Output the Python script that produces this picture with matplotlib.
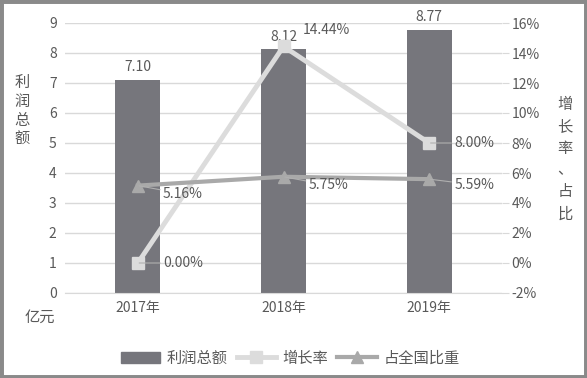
import matplotlib
matplotlib.use("Agg")
import matplotlib.pyplot as plt
from matplotlib.lines import Line2D
from matplotlib.patches import Patch, Rectangle
import numpy as np

plt.rcParams['font.family'] = ['Noto Sans CJK SC', 'DejaVu Sans']

categories = ['2017年', '2018年', '2019年']
profit = [7.10, 8.12, 8.77]
growth = [0.00, 14.44, 8.00]
share = [5.16, 5.75, 5.59]
left_ticks = [0, 1, 2, 3, 4, 5, 6, 7, 8, 9]
right_ticks = [-2, 0, 2, 4, 6, 8, 10, 12, 14, 16]

TXT = '#595959'
BAR = '#76767c'
GROW = '#dcdcdc'
SHARE = '#a9a9a9'
GRID = '#d9d9d9'

fig = plt.figure(figsize=(5.87, 3.78), dpi=100)
ax = fig.add_axes([65/587, 1-293/378, (502-65)/587, 270/378])
x = np.arange(len(categories))
ax.bar(x, profit, width=0.31, color=BAR, zorder=2)
ax.set_xlim(-0.5, 2.5)
ax.set_ylim(0, 9)
ax.set_yticks(left_ticks)
ax.set_xticks(x)
ax.set_xticklabels(categories)
ax.yaxis.grid(True, color=GRID, lw=1, zorder=0)
for s in ax.spines.values():
    s.set_visible(False)
ax.spines['bottom'].set_visible(True)
ax.spines['bottom'].set_color(GRID)
ax.tick_params(axis='both', length=0, colors=TXT, labelsize=10, pad=6)
for i, v in enumerate(profit):
    ax.annotate(f'{v:.2f}', (x[i], v), xytext=(0, 4), textcoords='offset points',
                ha='center', va='bottom', fontsize=10, color=TXT, zorder=5)

ax2 = ax.twinx()
ax2.set_ylim(-2, 16)
ax2.set_yticks(right_ticks)
ax2.set_yticklabels([f'{t}%' for t in right_ticks])
for s in ax2.spines.values():
    s.set_visible(False)
ax2.tick_params(axis='y', length=5, color=GRID, colors=TXT, labelsize=10, pad=2)
ax2.plot(x, growth, color=GROW, lw=3.5, marker='s', ms=8, zorder=3)
ax2.plot(x, share, color=SHARE, lw=3, marker='^', ms=8, zorder=4)

def lab(i, v, dx, dy, ha='left', va='center', leader=False):
    kw = dict(xytext=(dx, dy), textcoords='offset points', ha=ha, va=va,
              fontsize=10, color=TXT, zorder=6)
    if leader:
        kw['arrowprops'] = dict(arrowstyle='-', color='#b0b0b0', lw=0.8,
                                shrinkA=0, shrinkB=1)
    ax2.annotate(f'{v:.2f}%', (x[i], v), **kw)

lab(0, growth[0], 18, 0, leader=True)
lab(1, growth[1], 14, 12)
lab(2, growth[2], 18, 0, leader=True)
lab(0, share[0], 18, -6, leader=True)
lab(1, share[1], 18, -6, leader=True)
lab(2, share[2], 18, -4, leader=True)

fig.text(22/587, 1-111/378, '利\n润\n总\n额', ha='center', va='center',
         fontsize=11, color=TXT, linespacing=1.15)
fig.text(40/587, 1-317/378, '亿元', ha='center', va='center', fontsize=11, color=TXT)
fig.text(565/587, 1-159/378, '增\n长\n率\n、\n占\n比', ha='center', va='center',
         fontsize=11, color=TXT, linespacing=1.38)

handles = [Patch(color=BAR),
           Line2D([], [], color=GROW, lw=3.5, marker='s', ms=8),
           Line2D([], [], color=SHARE, lw=3, marker='^', ms=8)]
fig.legend(handles, ['利润总额', '增长率', '占全国比重'], loc='center',
           bbox_to_anchor=(290/587, 1-358/378), ncol=3, frameon=False,
           fontsize=11, labelcolor=TXT, handlelength=2.6, handletextpad=0.4,
           columnspacing=0.6)

fig.patches.append(Rectangle((0, 0), 1, 1, transform=fig.transFigure, fill=False,
                             edgecolor='#8a8a8a', lw=5, zorder=10))
fig.savefig('out.png', dpi=100)
